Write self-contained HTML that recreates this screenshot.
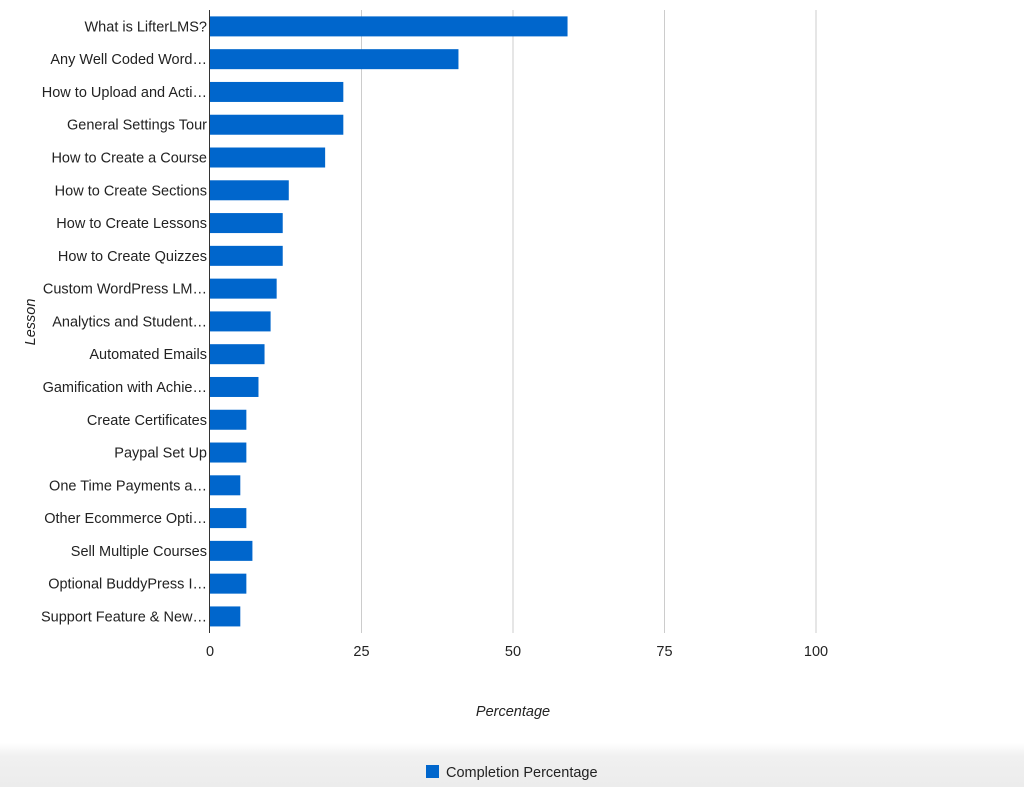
<!DOCTYPE html>
<html><head><meta charset="utf-8"><style>
body{margin:0;width:1024px;height:787px;overflow:hidden;background:#fff;font-family:"Liberation Sans",sans-serif}
#band{position:absolute;left:0;top:743px;width:1024px;height:44px;background:linear-gradient(#fff,#f0f0f0 30%,#ececec)}
svg{position:absolute;left:0;top:0}
</style></head><body>
<div id="band"></div>
<svg id="chart" width="1024" height="787"></svg>
<script>
const categories=["What is LifterLMS?","Any Well Coded Word…","How to Upload and Acti…","General Settings Tour","How to Create a Course","How to Create Sections","How to Create Lessons","How to Create Quizzes","Custom WordPress LM…","Analytics and Student…","Automated Emails","Gamification with Achie…","Create Certificates","Paypal Set Up","One Time Payments a…","Other Ecommerce Opti…","Sell Multiple Courses","Optional BuddyPress I…","Support Feature & New…"];
const values=[59,41,22,22,19,13,12,12,11,10,9,8,6,6,5,6,7,6,5];
const ticks=[0,25,50,75,100];
const NS="http://www.w3.org/2000/svg";
const svg=document.getElementById('chart');
const x0=210,pxPer=6.06,top0=10,step=32.78,barH=20,plotBottom=633,fs=14.5;
const xs=v=>x0+v*pxPer;
const yc=i=>top0+step*(i+0.5);
function mk(t,a,txt){const e=document.createElementNS(NS,t);for(const k in a)e.setAttribute(k,a[k]);if(txt!=null)e.textContent=txt;svg.appendChild(e);return e;}
ticks.forEach(t=>{
 if(t>0){const g=mk('line',{x1:xs(t),x2:xs(t),y1:top0,y2:plotBottom,stroke:'#ccc','stroke-width':1});
 
 }
 const l=mk('text',{x:xs(t),y:656,'text-anchor':'middle','font-size':fs,fill:'#222'},t);
 
 
});
categories.forEach((c,i)=>{
 const r=mk('rect',{x:x0,y:yc(i)-barH/2,width:xs(values[i])-x0,height:barH,fill:'#0066cc'});
 
 
 const t=mk('text',{x:207,y:yc(i)+5,'text-anchor':'end','font-size':fs,fill:'#222'},c);
 
 
});
const ax=mk('line',{x1:209.5,x2:209.5,y1:top0,y2:plotBottom,stroke:'#333','stroke-width':1});


const xt=mk('text',{x:513,y:716,'text-anchor':'middle','font-size':fs,'font-style':'italic',fill:'#222'},'Percentage');


const yt=mk('text',{x:0,y:0,'text-anchor':'middle','font-size':fs,'font-style':'italic',fill:'#222',transform:'translate(35,322) rotate(-90)'},'Lesson');


const ls=mk('rect',{x:426,y:765,width:13,height:13,fill:'#0066cc'});


const lt=mk('text',{x:446,y:777,'font-size':fs,fill:'#222'},'Completion Percentage');


</script>
</body></html>
